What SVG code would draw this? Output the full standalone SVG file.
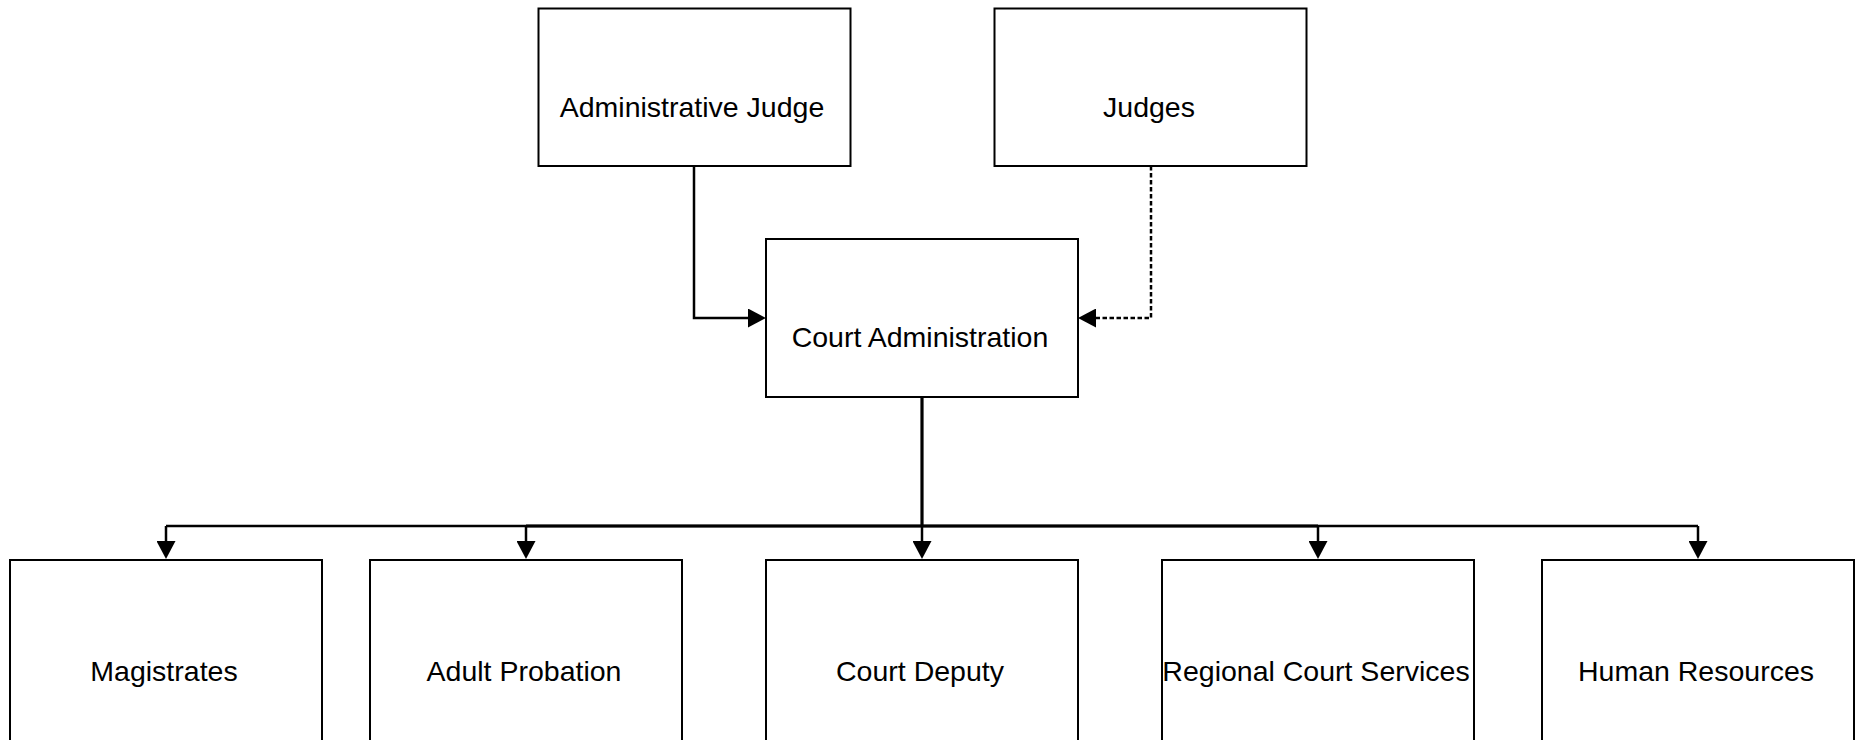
<svg xmlns="http://www.w3.org/2000/svg" width="1862" height="740" viewBox="0 0 1862 740">
<style>
.box{fill:#fff;stroke:#000;stroke-width:2}
.lbl{font-family:"Liberation Sans",Arial,sans-serif;font-size:28.5px;fill:#000;text-anchor:middle}
.c{fill:none;stroke:#000;stroke-width:2.5}
.dash{stroke-dasharray:4.5 2.5}
.thick{stroke-width:3.2}
</style>
<defs>
<marker id="ah" markerUnits="userSpaceOnUse" markerWidth="19" markerHeight="19" refX="7" refY="9.5" orient="auto" viewBox="0 0 19 19">
<path d="M0,0 L18,9.5 L0,19 z" fill="#000"/>
</marker>
</defs>
<rect width="1862" height="740" fill="#fff"/>
<g id="connectors">
<path class="c" d="M694,166 V318 H755" marker-end="url(#ah)"/>
<path class="c dash" d="M1151,166 V318 H1089" marker-end="url(#ah)"/>
<path class="c thick" d="M922,397 V526"/>
<path class="c" d="M166,526 H1698"/>
<path class="c thick" d="M526,526 H1318"/>
<path class="c" d="M166,526 V548" marker-end="url(#ah)"/>
<path class="c" d="M526,526 V548" marker-end="url(#ah)"/>
<path class="c" d="M922,526 V548" marker-end="url(#ah)"/>
<path class="c" d="M1318,526 V548" marker-end="url(#ah)"/>
<path class="c" d="M1698,526 V548" marker-end="url(#ah)"/>
</g>
<g id="admin-judge">
<rect class="box" x="538.5" y="8.5" width="312" height="157.5"/>
<text class="lbl" x="692" y="116.5">Administrative Judge</text>
</g>
<g id="judges">
<rect class="box" x="994.5" y="8.5" width="312" height="157.5"/>
<text class="lbl" x="1149" y="116.5">Judges</text>
</g>
<g id="court-administration">
<rect class="box" x="766" y="239" width="312" height="158"/>
<text class="lbl" x="920" y="346.5">Court Administration</text>
</g>
<g id="magistrates">
<rect class="box" x="10" y="560" width="312" height="200"/>
<text class="lbl" x="164" y="681">Magistrates</text>
</g>
<g id="adult-probation">
<rect class="box" x="370" y="560" width="312" height="200"/>
<text class="lbl" x="524" y="681">Adult Probation</text>
</g>
<g id="court-deputy">
<rect class="box" x="766" y="560" width="312" height="200"/>
<text class="lbl" x="920" y="681">Court Deputy</text>
</g>
<g id="regional-court-services">
<rect class="box" x="1162" y="560" width="312" height="200"/>
<text class="lbl" x="1316" y="681">Regional Court Services</text>
</g>
<g id="human-resources">
<rect class="box" x="1542" y="560" width="312" height="200"/>
<text class="lbl" x="1696" y="681">Human Resources</text>
</g>
</svg>
